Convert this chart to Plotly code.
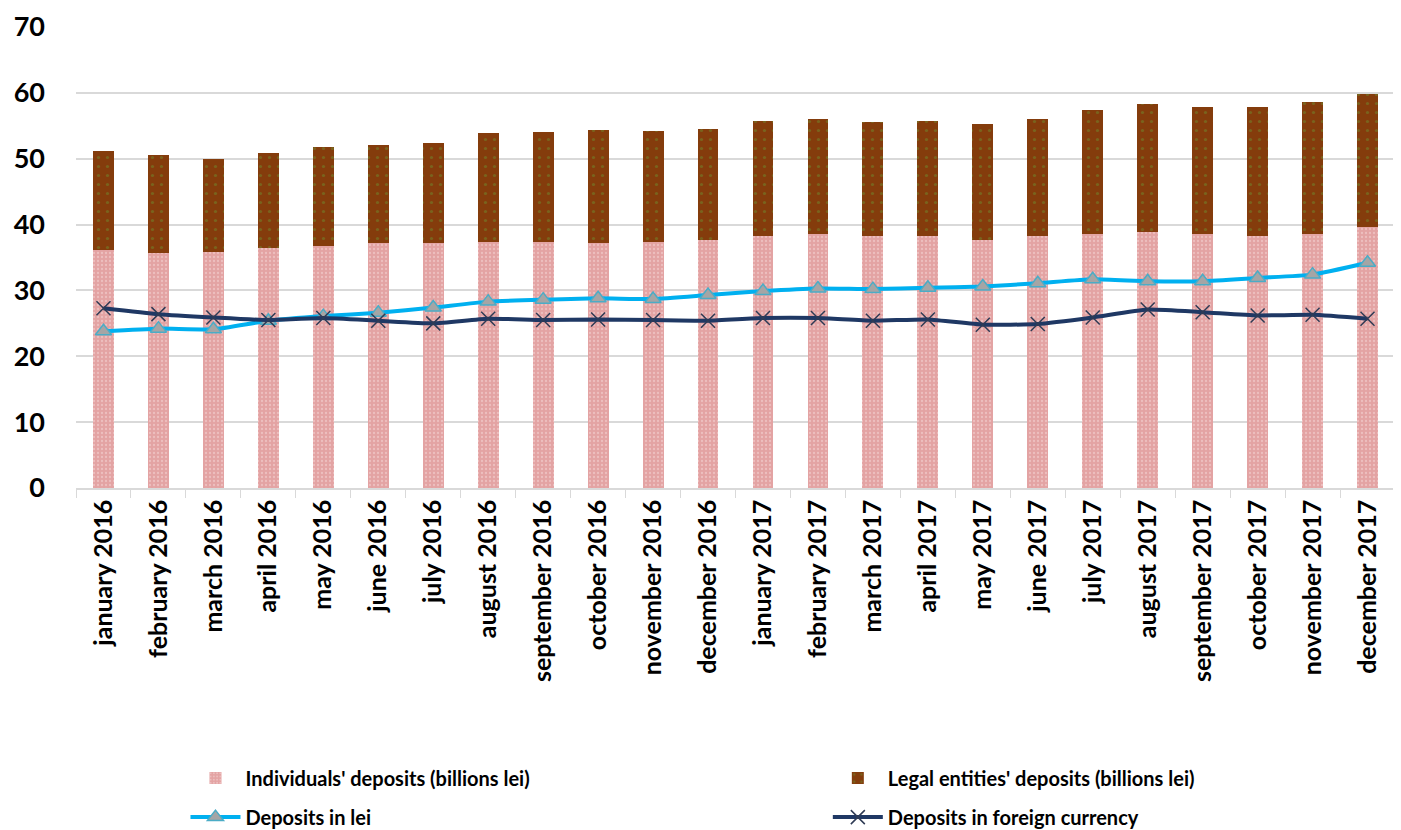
import plotly.graph_objects as go

months = ["january 2016", "february 2016", "march 2016", "april 2016", "may 2016", "june 2016",
          "july 2016", "august 2016", "september 2016", "october 2016", "november 2016", "december 2016",
          "january 2017", "february 2017", "march 2017", "april 2017", "may 2017", "june 2017",
          "july 2017", "august 2017", "september 2017", "october 2017", "november 2017", "december 2017"]

individuals = [36.1, 35.7, 35.9, 36.4, 36.7, 37.2, 37.2, 37.4, 37.4, 37.2, 37.4, 37.7,
               38.2, 38.5, 38.2, 38.3, 37.6, 38.2, 38.5, 38.8, 38.5, 38.2, 38.6, 39.7]
legal = [15.0, 14.8, 14.1, 14.4, 15.1, 14.9, 15.2, 16.5, 16.7, 17.1, 16.8, 16.8,
         17.5, 17.5, 17.3, 17.5, 17.7, 17.8, 18.9, 19.5, 19.4, 19.7, 20.0, 20.1]
lei = [23.8, 24.2, 24.1, 25.4, 26.1, 26.6, 27.4, 28.3, 28.6, 28.8, 28.7, 29.3,
       29.9, 30.3, 30.2, 30.4, 30.6, 31.1, 31.7, 31.4, 31.4, 31.9, 32.4, 34.2]
foreign = [27.3, 26.4, 25.9, 25.5, 25.8, 25.4, 25.0, 25.7, 25.5, 25.6, 25.5, 25.4,
           25.8, 25.8, 25.4, 25.6, 24.8, 24.9, 25.9, 27.1, 26.7, 26.2, 26.3, 25.7]

y_ticks = [0, 10, 20, 30, 40, 50, 60, 70]

FONT = "Lato"

fig = go.Figure()
fig.add_trace(go.Bar(
    x=months, y=individuals, name="Individuals' deposits (billions lei)",
    legend="legend", legendgroup="a",
    marker=dict(color="#E3A3A3", line=dict(width=0),
                pattern=dict(shape=".", fgcolor="#F6DADA", bgcolor="#E3A3A3", size=4, solidity=0.25)),
))
fig.add_trace(go.Bar(
    x=months, y=legal, name="Legal entities' deposits (billions lei)",
    legend="legend2", legendgroup="b",
    marker=dict(color="#843C0C", line=dict(width=0),
                pattern=dict(shape=".", fgcolor="#6E8A2E", bgcolor="#843C0C", size=9, solidity=0.1)),
))
fig.add_trace(go.Scatter(
    x=months, y=lei, name="Deposits in lei", mode="lines+markers",
    legend="legend", legendgroup="c",
    line=dict(color="#00B0F0", width=4, shape="spline", smoothing=0.5),
    marker=dict(symbol="triangle-up", size=14, color="#A5A5A5",
                line=dict(color="#4BACC6", width=1.5)),
))
fig.add_trace(go.Scatter(
    x=months, y=foreign, name="Deposits in foreign currency", mode="lines+markers",
    legend="legend2", legendgroup="d",
    line=dict(color="#1F3864", width=4, shape="spline", smoothing=0.5),
    marker=dict(symbol="x-thin", size=14, color="#2F3B55",
                line=dict(color="#2F3B55", width=1.5)),
))

legend_font = dict(family=FONT, size=20, color="black", weight="bold")
fig.update_layout(
    width=1401, height=830,
    barmode="stack", bargap=0.62,
    plot_bgcolor="white", paper_bgcolor="white",
    margin=dict(l=68, r=14, t=19, b=350, autoexpand=False),
    font=dict(family=FONT, color="black"),
    legend=dict(orientation="v", x=0.083, xanchor="left", y=-0.587, yanchor="top",
                traceorder="grouped", font=legend_font, tracegroupgap=10, itemwidth=50),
    legend2=dict(orientation="v", x=0.57, xanchor="left", y=-0.587, yanchor="top",
                 traceorder="grouped", font=legend_font, tracegroupgap=10, itemwidth=50),
)
fig.update_xaxes(
    type="category", range=[-0.5, len(months) - 0.5],
    tickangle=-90, showline=True, linecolor="#D9D9D9", linewidth=1.5,
    ticks="outside", tickson="boundaries", tickcolor="#D9D9D9", ticklen=8,
    tickfont=dict(family=FONT, size=25, color="black", weight="bold"),
    showgrid=False, automargin=False,
)
fig.update_yaxes(
    range=[0, 70], tickvals=y_ticks, showgrid=True, gridcolor="#D9D9D9", gridwidth=1.5,
    zeroline=False, showline=False, automargin=False,
    tickfont=dict(family=FONT, size=27, color="black", weight="bold"),
    ticklabelstandoff=30,
)

fig.write_html("out.html")
